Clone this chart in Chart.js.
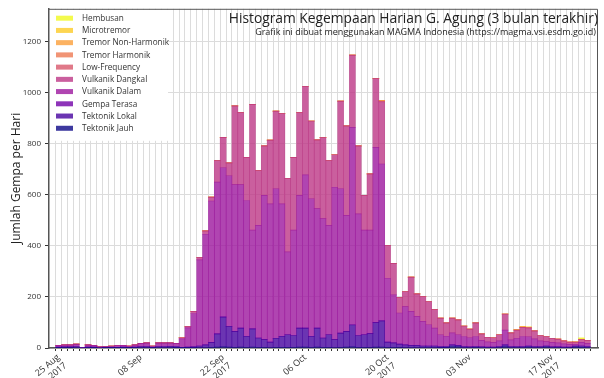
<!DOCTYPE html>
<html>
<head>
<meta charset="utf-8">
<script src="https://cdn.jsdelivr.net/npm/chart.js@4.4.1/dist/chart.umd.min.js"></script>
<style>
  html, body { margin: 0; padding: 0; background: #fff; }
  canvas { display: block; }
</style>
</head>
<body>
<canvas id="grafik" width="604" height="378"></canvas>
<script>
// Hari ke-0 = 25 Aug 2017, hari ke-90 = 23 Nov 2017
const tickDays = [0, 14, 28, 42, 56, 70, 84];
const tickLabels = [["25 Aug", "2017"], "08 Sep", ["22 Sep", "2017"], "06 Oct", ["20 Oct", "2017"], "03 Nov", ["17 Nov", "2017"]];

// Jumlah gempa per hari, per jenis
const tektonikJauh = [
  1, 1, 1, 2, 0, 1, 1, 0, 1, 1, 1, 1, 1, 1, 2, 2, 1, 2, 2, 2, 1,
  1, 1, 1, 2, 2, 3,
  4, 5, 4, 3, 4, 3, 4, 3, 3, 2, 3, 3, 3, 3, 4, 4, 3, 4, 3, 3, 2, 3, 4, 5, 3, 3, 3, 4, 4, 3, 3,
  3, 2, 2, 2, 2, 2, 2, 1, 1, 6, 5, 2, 2, 3, 2, 2, 2, 2, 5, 2, 2, 2, 4, 2, 2, 4, 2, 2, 2, 2, 4, 3, 2
];
const tektonikLokal = [
  3, 4, 4, 4, 1, 3, 3, 2, 1, 2, 2, 3, 2, 3, 4, 4, 2, 4, 4, 5, 5,
  2, 3, 4, 6, 10, 19,
  51, 116, 81, 62, 74, 43, 71, 36, 30, 21, 35, 43, 49, 46, 74, 74, 43, 74, 36, 49, 31, 55, 61, 85, 46, 49, 53, 95, 102, 20, 17,
  12, 10, 8, 8, 6, 6, 6, 5, 5, 6, 5, 4, 3, 3, 3, 2, 2, 4, 7, 4, 4, 4, 4, 4, 4, 4, 3, 3, 2, 2, 4, 5, 4
];
const gempaTerasa = [
  0, 0, 0, 0, 0, 0, 0, 0, 0, 0, 0, 0, 0, 0, 0, 0, 0, 0, 0, 0, 0,
  0, 0, 0, 0, 0, 0,
  0, 1, 0, 0, 0, 0, 0, 0, 0, 0, 0, 0, 0, 0, 0, 0, 0, 0, 0, 0, 0, 0, 0, 1, 0, 0, 0, 0, 0, 0, 0,
  0, 0, 0, 0, 0, 0, 0, 0, 0, 0, 0, 0, 0, 0, 0, 0, 0, 0, 0, 0, 0, 0, 0, 0, 0, 0, 0, 0, 0, 0, 0, 0, 0
];
const vulkanikDalam = [
  6, 7, 7, 9, 2, 8, 6, 3, 4, 5, 6, 6, 5, 8, 12, 14, 5, 14, 14, 13, 12,
  33, 75, 130, 337, 433, 553,
  594, 583, 589, 574, 561, 531, 386, 441, 564, 541, 585, 518, 324, 412, 519, 599, 538, 467, 467, 428, 596, 565, 454, 772, 476, 409, 405, 686, 614, 250, 188,
  122, 150, 133, 114, 96, 83, 70, 46, 40, 47, 42, 39, 35, 39, 25, 20, 18, 22, 58, 26, 32, 39, 36, 30, 22, 17, 17, 15, 12, 10, 6, 14, 12
];
const vulkanikDangkal = [
  0, 0, 0, 0, 0, 0, 0, 0, 0, 0, 0, 0, 0, 0, 0, 0, 0, 0, 0, 0, 0,
  4, 6, 8, 10, 13, 15,
  84, 119, 50, 308, 282, 169, 492, 214, 194, 249, 304, 353, 288, 285, 324, 347, 304, 269, 317, 253, 127, 343, 350, 283, 266, 136, 220, 269, 243, 129, 123,
  60, 59, 134, 88, 97, 91, 72, 65, 52, 58, 58, 41, 34, 53, 25, 18, 18, 24, 63, 27, 32, 36, 35, 31, 21, 20, 16, 15, 12, 9, 9, 11, 12
];
const lowFrequency = [
  0, 0, 0, 0, 0, 0, 0, 0, 0, 0, 0, 0, 0, 0, 0, 0, 0, 0, 0, 0, 0,
  0, 0, 0, 0, 0, 0,
  0, 0, 0, 0, 0, 0, 0, 0, 0, 0, 0, 0, 0, 0, 0, 0, 0, 0, 0, 0, 0, 0, 0, 0, 0, 0, 0, 0, 3, 0, 0,
  0, 0, 0, 0, 0, 0, 0, 0, 0, 0, 0, 0, 0, 0, 0, 0, 0, 0, 0, 0, 0, 0, 0, 0, 0, 0, 0, 0, 0, 0, 0, 0, 0
];
const tremorHarmonik = [
  0, 0, 0, 0, 0, 0, 0, 0, 0, 0, 0, 0, 0, 0, 0, 0, 0, 0, 0, 0, 0,
  0, 0, 0, 0, 0, 0,
  0, 0, 0, 0, 0, 0, 0, 0, 0, 0, 0, 0, 0, 0, 0, 0, 0, 0, 0, 0, 0, 0, 0, 0, 0, 0, 0, 0, 0, 0, 0,
  0, 0, 0, 0, 0, 0, 0, 0, 0, 0, 0, 0, 0, 0, 0, 0, 0, 0, 0, 0, 0, 0, 0, 0, 0, 0, 0, 0, 0, 0, 0, 0, 0
];
const tremorNonHarmonik = [
  0, 0, 0, 0, 0, 0, 0, 0, 0, 0, 0, 0, 0, 0, 0, 0, 0, 0, 0, 0, 0,
  0, 0, 0, 0, 0, 0,
  0, 0, 0, 0, 0, 0, 0, 0, 0, 0, 0, 0, 0, 0, 0, 0, 0, 0, 0, 0, 0, 0, 0, 0, 0, 0, 0, 0, 3, 0, 0,
  0, 0, 0, 0, 0, 0, 0, 0, 0, 0, 0, 0, 0, 0, 0, 0, 0, 0, 0, 0, 2, 4, 3, 0, 0, 0, 0, 0, 0, 0, 0, 0, 0
];
const microtremor = [
  0, 0, 0, 0, 0, 0, 0, 0, 0, 0, 0, 0, 0, 0, 0, 0, 0, 0, 0, 0, 0,
  0, 0, 0, 0, 0, 0,
  0, 0, 0, 0, 0, 0, 0, 0, 0, 0, 0, 0, 0, 0, 0, 0, 0, 0, 0, 0, 0, 0, 0, 0, 0, 0, 0, 0, 0, 0, 0,
  0, 0, 0, 0, 0, 0, 0, 0, 0, 0, 0, 0, 0, 0, 0, 0, 0, 0, 0, 0, 0, 0, 0, 0, 0, 0, 0, 0, 0, 0, 1, 2, 0
];
const hembusan = [
  0, 0, 0, 0, 0, 0, 0, 0, 0, 0, 0, 0, 0, 0, 0, 0, 0, 0, 0, 0, 0,
  0, 0, 0, 0, 0, 0,
  0, 0, 0, 0, 0, 0, 0, 0, 0, 0, 0, 0, 0, 0, 0, 0, 0, 0, 0, 0, 0, 0, 0, 0, 0, 0, 0, 0, 0, 0, 0,
  0, 0, 0, 0, 0, 0, 0, 0, 0, 0, 0, 0, 0, 0, 0, 0, 0, 0, 0, 0, 0, 0, 0, 0, 0, 0, 0, 0, 0, 0, 0, 5, 0
];

// urutan dari bawah ke atas (warna plasma)
const jenis = [
  { nama: "Tektonik Jauh", data: tektonikJauh, warna: "rgba(13, 8, 135, 0.8)" },
  { nama: "Tektonik Lokal", data: tektonikLokal, warna: "rgba(70, 3, 159, 0.8)" },
  { nama: "Gempa Terasa", data: gempaTerasa, warna: "rgba(114, 1, 168, 0.8)" },
  { nama: "Vulkanik Dalam", data: vulkanikDalam, warna: "rgba(156, 23, 158, 0.8)" },
  { nama: "Vulkanik Dangkal", data: vulkanikDangkal, warna: "rgba(189, 55, 134, 0.8)" },
  { nama: "Low-Frequency", data: lowFrequency, warna: "rgba(216, 87, 107, 0.8)" },
  { nama: "Tremor Harmonik", data: tremorHarmonik, warna: "rgba(237, 121, 83, 0.8)" },
  { nama: "Tremor Non-Harmonik", data: tremorNonHarmonik, warna: "rgba(251, 159, 58, 0.8)" },
  { nama: "Microtremor", data: microtremor, warna: "rgba(253, 202, 38, 0.8)" },
  { nama: "Hembusan", data: hembusan, warna: "rgba(240, 249, 33, 0.8)" },
];

const FONT = "'Open Sans', 'Noto Sans', sans-serif";

// legenda, bingkai dan judul digambar sendiri
const hiasan = {
  id: "hiasan",
  beforeDatasetsDraw(chart) {
    const ctx = chart.ctx;
    const a = chart.chartArea;
    ctx.save();
    ctx.fillStyle = "#fff";
    ctx.fillRect(a.left + 1, a.top + 1, 118, 131);
    ctx.font = "8.2px " + FONT;
    ctx.textBaseline = "middle";
    ctx.textAlign = "left";
    const urut = jenis.slice().reverse();
    urut.forEach((j, k) => {
      const y = 18.2 + k * 12.23;
      ctx.fillStyle = j.warna;
      ctx.fillRect(56, y - 2.5, 17, 5);
      ctx.fillStyle = "#333";
      ctx.fillText(j.nama, 82, y + 0.5);
    });
    ctx.restore();
  },
  afterDraw(chart) {
    const ctx = chart.ctx;
    const a = chart.chartArea;
    ctx.save();
    ctx.strokeStyle = "#555";
    ctx.lineWidth = 1;
    ctx.beginPath();
    ctx.moveTo(a.left, a.top + 0.5);
    ctx.lineTo(a.right - 0.5, a.top + 0.5);
    ctx.lineTo(a.right - 0.5, a.bottom);
    ctx.stroke();
    ctx.fillStyle = "#222";
    ctx.textAlign = "right";
    ctx.textBaseline = "alphabetic";
    ctx.font = "13.8px " + FONT;
    ctx.fillText("Histogram Kegempaan Harian G. Agung (3 bulan terakhir)", 598, 23);
    ctx.font = "9px " + FONT;
    ctx.fillText("Grafik ini dibuat menggunakan MAGMA Indonesia (https://magma.vsi.esdm.go.id)", 596, 35);
    ctx.restore();
  }
};

const ctx = document.getElementById("grafik").getContext("2d");

const grafik = new Chart(ctx, {
  type: "bar",
  data: {
    datasets: jenis.map((j) => ({
      label: j.nama,
      data: j.data.map((v, i) => ({ x: i, y: v })),
      backgroundColor: j.warna,
      borderWidth: 0,
      barPercentage: 1,
      categoryPercentage: 1,
    })),
  },
  options: {
    responsive: false,
    animation: false,
    devicePixelRatio: 1,
    layout: { padding: { top: 7, right: 6, left: 0, bottom: 0 } },
    plugins: {
      legend: { display: false },
      tooltip: { enabled: false },
    },
    scales: {
      x: {
        type: "linear",
        stacked: true,
        min: -1.13,
        max: 91.3,
        afterBuildTicks: (s) => {
          const t = [];
          for (let i = 0; i <= 90; i++) t.push({ value: i });
          s.ticks = t;
        },
        afterFit: (s) => { s.height = 30; },
        grid: { color: "#dcdcdc", tickColor: "#333", tickLength: 3, lineWidth: 1 },
        border: { color: "#555", width: 1.5 },
        ticks: {
          autoSkip: false,
          maxRotation: 40,
          minRotation: 40,
          padding: 1,
          color: "#333",
          font: { family: FONT, size: 9 },
          callback: (v) => {
            const k = tickDays.indexOf(v);
            return k >= 0 ? tickLabels[k] : "";
          },
        },
      },
      y: {
        stacked: true,
        min: 0,
        max: 1327,
        afterFit: (s) => { s.width = 49; },
        grid: { color: "#dcdcdc", tickColor: "#333", tickLength: 4 },
        border: { color: "#555", width: 1.5 },
        ticks: {
          stepSize: 200,
          includeBounds: false,
          padding: 4,
          color: "#333",
          font: { family: FONT, size: 8 },
          callback: (v) => String(v),
        },
        title: {
          display: true,
          text: "Jumlah Gempa per Hari",
          color: "#222",
          font: { family: FONT, size: 12 },
          padding: { top: 9, bottom: 0 },
        },
      },
    },
  },
  plugins: [hiasan],
});
</script>
</body>
</html>
